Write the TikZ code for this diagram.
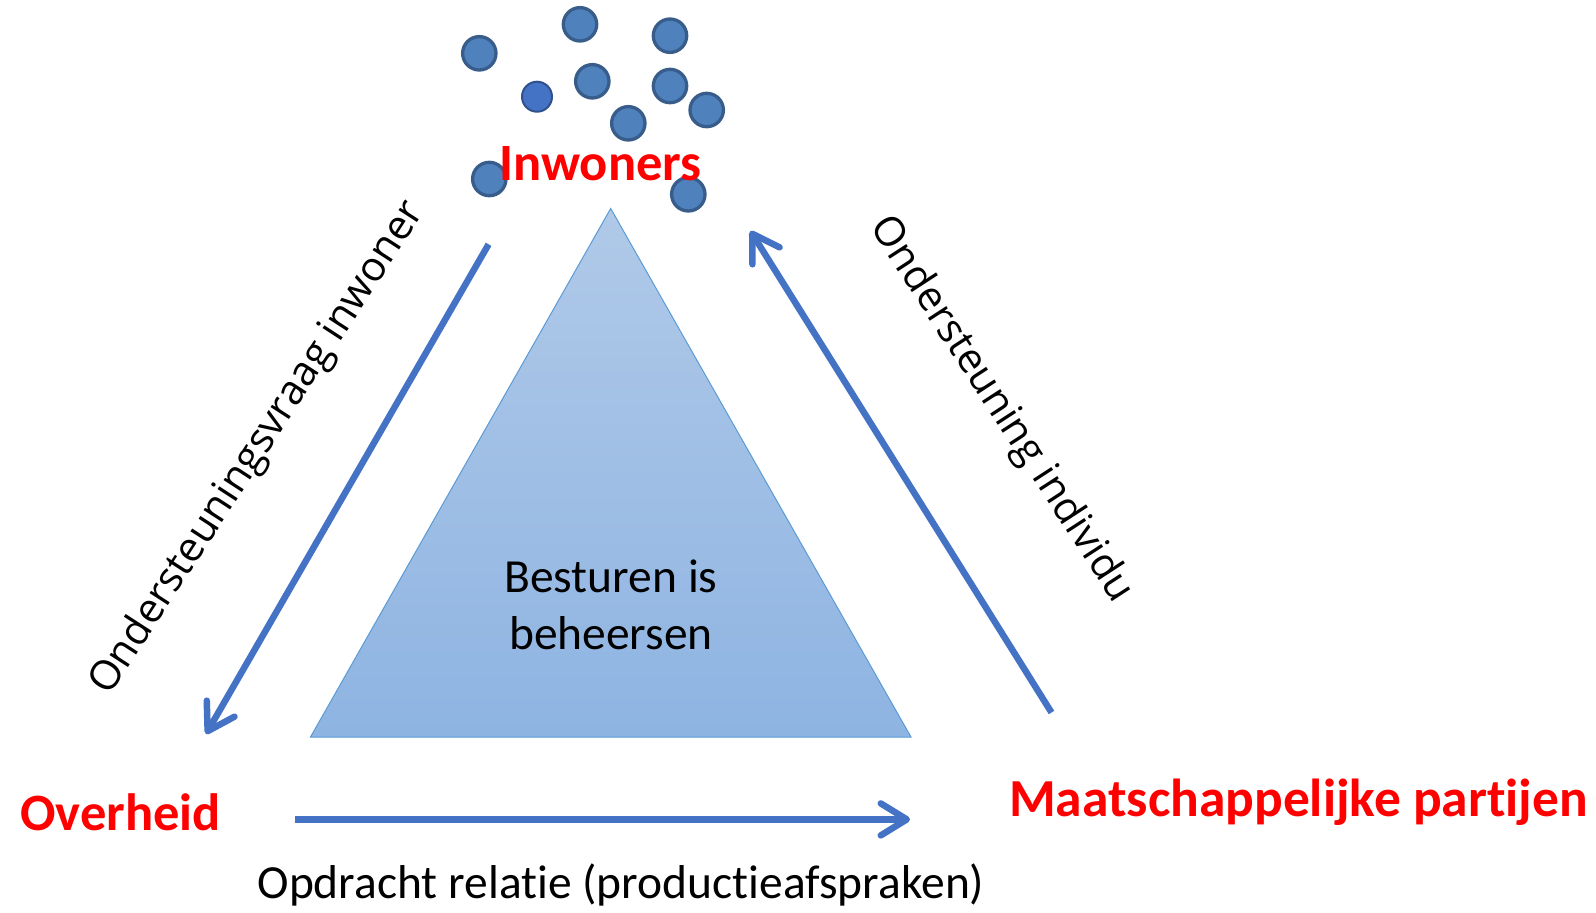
\documentclass[tikz,border=0pt]{standalone}
\usepackage{fontspec}
\setmainfont{Carlito}[RawFeature={-liga;-clig;-calt;-dlig}]
\newfontfamily\rotfont{Open Sans}[RawFeature={-liga;-clig;-calt;-dlig}]
\usetikzlibrary{arrows.meta}
\definecolor{arrowblue}{RGB}{68,114,196}
\definecolor{dotfill}{RGB}{79,129,189}
\definecolor{dotline}{RGB}{56,93,138}
\definecolor{dotfillb}{RGB}{68,114,196}
\definecolor{dotlineb}{RGB}{47,82,143}
\definecolor{tritop}{RGB}{176,201,232}
\definecolor{tribot}{RGB}{142,180,226}
\definecolor{triline}{RGB}{91,155,213}
\definecolor{labelred}{RGB}{255,0,0}
\begin{document}
\begin{tikzpicture}[x=1pt,y=-1pt,
  flow/.style={draw=arrowblue, line width=6.5pt, -{Straight Barb[length=26pt,width=32pt,round]}},
  dot/.style={circle, draw=dotline, fill=dotfill, line width=3.3pt, minimum size=33.4pt, inner sep=0pt},
  dotb/.style={circle, draw=dotlineb, fill=dotfillb, line width=2pt, minimum size=30pt, inner sep=0pt},
  actor/.style={text=labelred, font=\fontsize{52.5}{62}\selectfont\bfseries, inner sep=0pt},
  plain/.style={text=black, font=\fontsize{47.5}{57.3}\selectfont, inner sep=0pt},
  sidelabel/.style={text=black, font=\rotfont\fontsize{41}{48}\selectfont, inner sep=0pt}
]
\useasboundingbox (0,0) rectangle (1596,913);
\fill[white] (0,0) rectangle (1596,913);

% triangle
\coordinate (apex) at (610.7,208.5);
\coordinate (bl) at (310.5,737);
\coordinate (br) at (911,737);
\path[draw=triline, line width=1pt, top color=tritop, bottom color=tribot] (apex) -- (bl) -- (br) -- cycle;
\node[plain, align=center] (core) at (611,605) {Besturen is\\beheersen};

% citizens
\node[dot] (c1) at (479.3,53.3) {};
\node[dot] (c2) at (580,24.3) {};
\node[dot] (c3) at (670,35.7) {};
\node[dotb] (c4) at (537,96.7) {};
\node[dot] (c5) at (592.3,81.3) {};
\node[dot] (c6) at (670,86) {};
\node[dot] (c7) at (706.7,110) {};
\node[dot] (c8) at (628.3,123.3) {};
\node[dot] (c9) at (489.3,179) {};
\node[dot] (c10) at (688.3,194.3) {};

\node[actor, anchor=base] (inw) at (600.6,180) {Inwoners};
\node[actor, anchor=base] (ovh) at (120.7,830) {Overheid};
\node[actor, anchor=base, font=\fontsize{53.5}{62}\selectfont\bfseries] (mp) at (1298.6,816) {Maatschappelijke partijen};

% arrows
\coordinate (lA) at (488.6,244.3);
\coordinate (lB) at (206,734);
\coordinate (rA) at (1051.5,712.5);
\coordinate (rB) at (750.5,231);
\coordinate (bA) at (295.2,819.4);
\coordinate (bB) at (910,819.4);
\draw[flow] (lA) -- (lB);
\draw[flow] (rA) -- (rB);
\draw[flow] (bA) -- (bB);

\node[sidelabel, rotate=57] (lq) at (258.3,448.3) {Ondersteuningsvraag inwoner};
\node[sidelabel, rotate=-57] (rq) at (1000.8,409.8) {Ondersteuning individu};
\node[plain, anchor=base] (op) at (621,898) {Opdracht relatie (productieafspraken)};
\end{tikzpicture}
\end{document}
